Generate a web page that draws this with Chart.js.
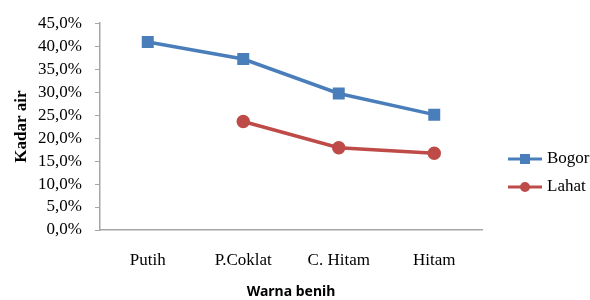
<!DOCTYPE html>
<html>
<head>
<meta charset="utf-8">
<script src="https://cdn.jsdelivr.net/npm/chart.js@4"></script>
<style>
  html, body { margin: 0; padding: 0; background: #fff; }
  #wrap { width: 590px; height: 300px; position: relative; }
</style>
</head>
<body>
<div id="wrap"><canvas id="chart"></canvas></div>
<script>
// Data
const categories = ['Putih', 'P.Coklat', 'C. Hitam', 'Hitam'];
const bogor = [40.9, 37.2, 29.7, 25.1];
const lahat = [null, 23.6, 17.9, 16.7];
const yTicks = [0, 5, 10, 15, 20, 25, 30, 35, 40, 45];
const xTitle = 'Warna benih';

const blue = '#4a7ebb';
const red = '#be4b48';
const serif = "'Liberation Serif', 'DejaVu Serif', serif";

// Legend with line + marker on the right, and the x title below
const extras = {
    id: 'extras',
    afterDraw(chart) {
        const ctx = chart.ctx;
        const items = [
            { label: 'Bogor', color: blue, shape: 'rect', y: 159 },
            { label: 'Lahat', color: red, shape: 'circle', y: 187 }
        ];
        ctx.save();
        items.forEach(it => {
            ctx.strokeStyle = it.color;
            ctx.lineWidth = 3;
            ctx.beginPath();
            ctx.moveTo(508, it.y);
            ctx.lineTo(542, it.y);
            ctx.stroke();
            ctx.fillStyle = it.color;
            if (it.shape === 'rect') {
                ctx.fillRect(520, it.y - 5, 10, 10);
            } else {
                ctx.beginPath();
                ctx.arc(525, it.y, 5, 0, Math.PI * 2);
                ctx.fill();
            }
            ctx.fillStyle = '#000';
            ctx.font = '17px ' + serif;
            ctx.textBaseline = 'middle';
            ctx.textAlign = 'left';
            ctx.fillText(it.label, 547, it.y);
        });

        const area = chart.chartArea;
        ctx.font = "bold 14px 'Noto Sans', sans-serif";
        ctx.textAlign = 'center';
        ctx.textBaseline = 'middle';
        ctx.fillText(xTitle, (area.left + area.right) / 2, 292);
        ctx.restore();
    }
};

const ctx = document.getElementById('chart').getContext('2d');
new Chart(ctx, {
    type: 'line',
    data: {
        labels: categories,
        datasets: [{
            label: 'Bogor',
            data: bogor,
            borderColor: blue,
            backgroundColor: blue,
            borderWidth: 3.5,
            pointStyle: 'rect',
            pointRadius: 6,
            pointHoverRadius: 6,
            tension: 0
        }, {
            label: 'Lahat',
            data: lahat,
            borderColor: red,
            backgroundColor: red,
            borderWidth: 3.5,
            pointStyle: 'circle',
            pointRadius: 5,
            pointHoverRadius: 5,
            tension: 0
        }]
    },
    options: {
        responsive: true,
        maintainAspectRatio: false,
        animation: false,
        layout: { padding: { left: 0, right: 108, top: 19, bottom: 0 } },
        plugins: {
            legend: { display: false },
            tooltip: { enabled: false }
        },
        scales: {
            x: {
                offset: true,
                grid: { display: false, drawTicks: false },
                border: { color: '#a6a6a6', width: 1.5 },
                ticks: {
                    color: '#000',
                    padding: 20,
                    maxRotation: 0,
                    autoSkip: false,
                    font: { family: serif, size: 17 }
                },
                afterFit(scale) { scale.height = 70; }
            },
            y: {
                min: 0,
                max: 45,
                afterBuildTicks(scale) { scale.ticks = yTicks.map(v => ({ value: v })); },
                grid: { drawOnChartArea: false, tickLength: 5, color: '#a6a6a6', tickColor: '#a6a6a6' },
                border: { color: '#a6a6a6', width: 1.5 },
                ticks: {
                    color: '#000',
                    padding: 13,
                    autoSkip: false,
                    font: { family: serif, size: 17 },
                    callback: v => v.toFixed(1).replace('.', ',') + '%'
                },
                title: {
                    display: true,
                    text: 'Kadar air',
                    color: '#000',
                    padding: { top: 11, bottom: 0 },
                    font: { family: serif, size: 17, weight: 'bold' }
                },
                afterFit(scale) { scale.width = 100; }
            }
        }
    },
    plugins: [extras]
});
</script>
</body>
</html>
